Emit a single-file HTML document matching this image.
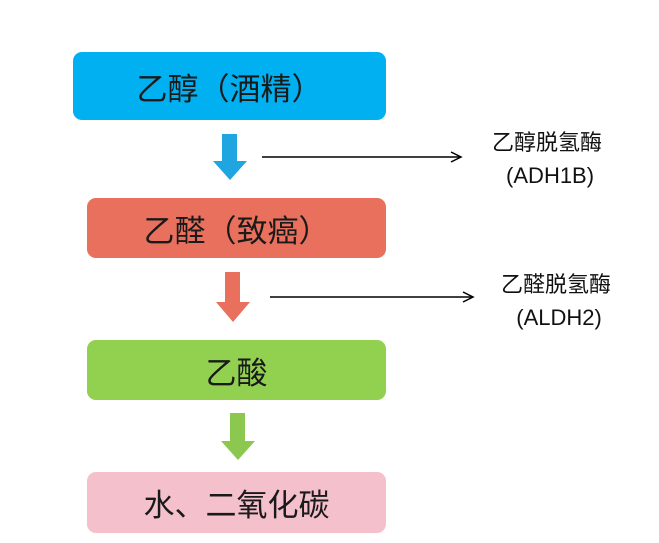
<!DOCTYPE html>
<html><head><meta charset="utf-8"><style>
body{margin:0;width:659px;height:543px;background:#fff;position:relative;overflow:hidden;font-family:"Liberation Sans","Noto Sans CJK SC",sans-serif;}
.b{position:absolute;border-radius:9px;display:flex;align-items:center;justify-content:center;font-size:31px;color:#1a1a1a;}
.t{position:absolute;font-size:22px;color:#111;text-align:center;line-height:33px;}
</style></head><body>
<div class="b" style="left:73px;top:52px;width:313px;height:68px;background:#00b0f0">乙醇（酒精）</div>
<div class="b" style="left:87px;top:198px;width:299px;height:60px;background:#e8705d">乙醛（致癌）</div>
<div class="b" style="left:87px;top:340px;width:299px;height:60px;background:#92d050">乙酸</div>
<div class="b" style="left:87px;top:472px;width:299px;height:61px;background:#f4c0cb">水、二氧化碳</div>
<svg width="659" height="543" style="position:absolute;left:0;top:0">
<polygon points="222,134 237,134 237,161 247,161 230,180 213,161 222,161" fill="#1fa5e0"/>
<polygon points="225,272 240,272 240,302 250,302 233,322 216,302 225,302" fill="#e8705d"/>
<polygon points="230,413 245,413 245,441 255,441 238,460 221,441 230,441" fill="#8cc84f"/>
<line x1="262" y1="157" x2="460" y2="157" stroke="#000" stroke-width="1.5"/>
<polyline points="451,152 461,157 451,162" fill="none" stroke="#000" stroke-width="1.5"/>
<line x1="270" y1="297" x2="472" y2="297" stroke="#000" stroke-width="1.5"/>
<polyline points="463,292 473,297 463,302" fill="none" stroke="#000" stroke-width="1.5"/>
</svg>
<div class="t" style="left:482px;top:126px;width:130px">乙醇脱氢酶<br>&nbsp;(ADH1B)</div>
<div class="t" style="left:491px;top:268px;width:130px">乙醛脱氢酶<br>&nbsp;(ALDH2)</div>
</body></html>
